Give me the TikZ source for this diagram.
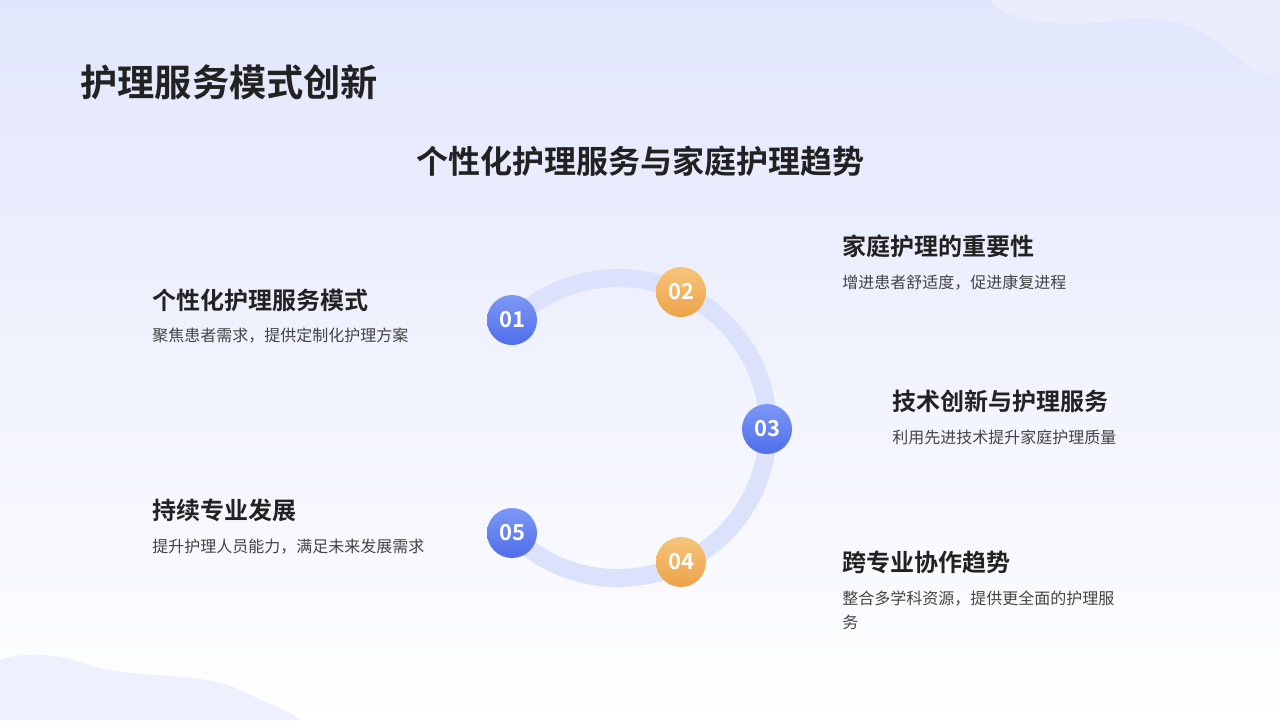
\documentclass[tikz,border=0pt]{standalone}
\usepackage{fontspec}
\setmainfont{Noto Sans CJK SC}
\newfontfamily\cjkb{Noto Sans CJK SC Bold}
\usetikzlibrary{shadings,calc}
\definecolor{bgtop}{HTML}{E2E6FC}
\definecolor{ringc}{HTML}{DCE2FB}
\definecolor{bluea}{HTML}{7D98F6}
\definecolor{blueb}{HTML}{4F6EEA}
\definecolor{orga}{HTML}{F6C57A}
\definecolor{orgb}{HTML}{EDA24A}
\definecolor{txt}{HTML}{222222}
\definecolor{desc}{HTML}{444444}
\tikzset{
 head/.style={anchor=west,font=\cjkb\fontsize{12pt}{14pt}\selectfont,text=txt,inner sep=0},
 dsc/.style={anchor=west,font=\fontsize{8pt}{10pt}\selectfont,text=desc,inner sep=0},
 bnum/.style={circle,minimum size=25pt,inner sep=0,top color=bluea,bottom color=blueb,text=white,font=\cjkb\fontsize{11pt}{12pt}\selectfont},
 onum/.style={circle,minimum size=25pt,inner sep=0,top color=orga,bottom color=orgb,text=white,font=\cjkb\fontsize{11pt}{12pt}\selectfont}
}
\begin{document}
\begin{tikzpicture}[x=0.5pt,y=-0.5pt]
\shade[top color=bgtop,bottom color=white] (0,0) rectangle (1280,720);
\useasboundingbox (0,0) rectangle (1280,720);
\fill[bgtop!70!white] (990,0) .. controls (1000,20) and (1060,30) .. (1120,20) .. controls (1180,10) and (1220,40) .. (1240,60) .. controls (1255,75) and (1270,75) .. (1280,72) -- (1280,0) -- cycle;
\fill[bgtop!60!white] (0,660) .. controls (30,650) and (60,655) .. (90,665) .. controls (130,680) and (200,670) .. (240,690) .. controls (270,705) and (290,710) .. (300,720) -- (0,720) -- cycle;
\node[anchor=west,inner sep=0,font=\cjkb\fontsize{18.6pt}{20pt}\selectfont,text=txt] (title) at (80,82) {护理服务模式创新};
\node[inner sep=0,font=\cjkb\fontsize{16pt}{18pt}\selectfont,text=txt] (sub) at (640,161) {个性化护理服务与家庭护理趋势};
\coordinate (c) at (618,428);
\draw[ringc,line width=9pt] ($(c)+(225:150)$) arc (225:495:150);
\node[bnum] (n1) at (512,320) {01};
\node[onum] (n2) at (681,292) {02};
\node[bnum] (n3) at (767,429) {03};
\node[onum] (n4) at (681,562) {04};
\node[bnum] (n5) at (512,533) {05};
\node[head] (h1) at (152,300) {个性化护理服务模式};
\node[dsc] (d1) at (152,336) {聚焦患者需求，提供定制化护理方案};
\node[head] (h2) at (842,246) {家庭护理的重要性};
\node[dsc] (d2) at (842,283) {增进患者舒适度，促进康复进程};
\node[head] (h3) at (892,401) {技术创新与护理服务};
\node[dsc] (d3) at (892,437) {利用先进技术提升家庭护理质量};
\node[head] (h4) at (842,562) {跨专业协作趋势};
\node[dsc] (d4) at (842,599) {整合多学科资源，提供更全面的护理服};
\node[dsc] (d4b) at (842,622) {务};
\node[head] (h5) at (152,510) {持续专业发展};
\node[dsc] (d5) at (152,547) {提升护理人员能力，满足未来发展需求};
\end{tikzpicture}
\end{document}
